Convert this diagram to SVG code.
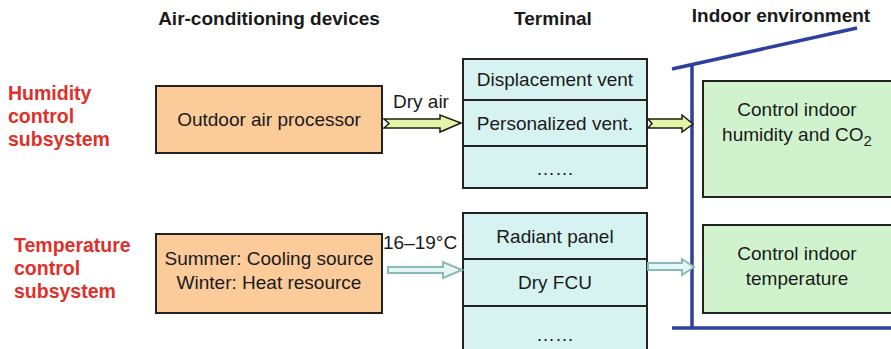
<svg xmlns="http://www.w3.org/2000/svg" width="891" height="349" viewBox="0 0 891 349">
<style>
text{font-family:"Liberation Sans",Arial,sans-serif;fill:#1a1a1a}
.h{font-weight:bold;font-size:19px}
.r{font-weight:bold;font-size:19.5px;fill:#e0302a}
.t{font-size:19px}
.c{text-anchor:middle}
.or{fill:#fbcb9a;stroke:#222;stroke-width:2}
.cy{fill:#d6f3f1;stroke:#222;stroke-width:2}
.gr{fill:#d0f3cd;stroke:#222;stroke-width:2}
.wall{stroke:#2e3f9e;stroke-width:3.5;fill:none}
.ya{fill:#e2f5a8;stroke:#1e1e10;stroke-width:1.5}
.ca{fill:#e4f6f5;stroke:#8bbab6;stroke-width:2}
</style>
<rect width="891" height="349" fill="#fff"/>
<g id="headers">
<text class="h c" x="269" y="25">Air-conditioning devices</text>
<text class="h c" x="553" y="25">Terminal</text>
<text class="h c" x="781" y="22">Indoor environment</text>
</g>
<g id="humidity-label">
<text class="r" x="8" y="100">Humidity</text>
<text class="r" x="8" y="123">control</text>
<text class="r" x="8" y="146">subsystem</text>
</g>
<g id="temperature-label">
<text class="r" x="14" y="252">Temperature</text>
<text class="r" x="14" y="275">control</text>
<text class="r" x="14" y="298">subsystem</text>
</g>
<g id="building">
<path class="wall" d="M672,69 L857,28"/>
<path class="wall" d="M692,66 L692,328"/>
<path class="wall" d="M672,328 L891,328"/>
</g>
<g id="outdoor-air-processor">
<rect class="or" x="156" y="86" width="226" height="67"/>
<text class="t c" x="269" y="126">Outdoor air processor</text>
</g>
<g id="cooling-heat-source">
<rect class="or" x="156" y="234" width="226" height="79"/>
<text class="t c" x="269" y="265">Summer: Cooling source</text>
<text class="t c" x="269" y="289">Winter: Heat resource</text>
</g>
<g id="terminal-humidity">
<rect class="cy" x="463" y="59" width="184" height="129"/>
<line x1="463" y1="100" x2="647" y2="100" stroke="#222" stroke-width="2"/>
<line x1="463" y1="146" x2="647" y2="146" stroke="#222" stroke-width="2"/>
<text class="t c" x="555" y="86">Displacement vent</text>
<text class="t c" x="555" y="130">Personalized vent.</text>
<text class="t c" x="555" y="175">……</text>
</g>
<g id="terminal-temperature">
<rect class="cy" x="463" y="213" width="184" height="140"/>
<line x1="463" y1="259" x2="647" y2="259" stroke="#222" stroke-width="2"/>
<line x1="463" y1="306" x2="647" y2="306" stroke="#222" stroke-width="2"/>
<text class="t c" x="555" y="243">Radiant panel</text>
<text class="t c" x="555" y="289">Dry FCU</text>
<text class="t c" x="555" y="341">……</text>
</g>
<g id="humidity-target">
<rect class="gr" x="703" y="81" width="192" height="116"/>
<text class="t c" x="797" y="116">Control indoor</text>
<text class="t c" x="797" y="141">humidity and CO<tspan font-size="15" dy="5">2</tspan></text>
</g>
<g id="temperature-target">
<rect class="gr" x="703" y="225" width="192" height="88"/>
<text class="t c" x="797" y="260">Control indoor</text>
<text class="t c" x="797" y="285">temperature</text>
</g>
<g id="connectors">
<path class="ya" d="M384,119 L440,119 L440,115 L461,123 L440,132 L440,128 L384,128 L389,123.5 Z"/>
<text class="t" x="393" y="108">Dry air</text>
<path class="ya" d="M648,119 L682,119 L682,115 L693,124 L682,132 L682,128 L648,128 L652,123.5 Z"/>
<path class="ca" d="M388,267 L443,267 L443,262 L462,270 L443,278 L443,273 L388,273 Z"/>
<text class="t" x="383" y="249">16–19°C</text>
<path class="ca" d="M648,263 L682,263 L682,259 L694,267 L682,275 L682,270 L648,270 Z"/>
</g>
</svg>
